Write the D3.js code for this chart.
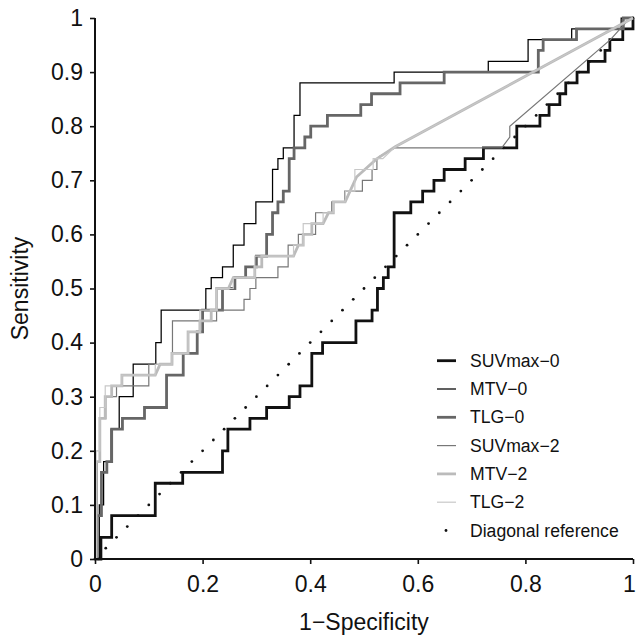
<!DOCTYPE html>
<html><head><meta charset="utf-8">
<script src="https://cdn.jsdelivr.net/npm/d3@7"></script>
<style>
html,body{margin:0;padding:0;background:#fff;}
text{font-family:"Liberation Sans",Arial,Helvetica,sans-serif;fill:#111;}
</style></head>
<body><svg id="c" width="637" height="636"></svg>
<script>
// ---- data (ROC vertices: 1-specificity, sensitivity) ----
const suv0X=[0,0.011,0.011,0.031,0.031,0.112,0.112,0.163,0.163,0.237,0.237,0.247,0.247,0.288,0.288,0.319,0.319,0.361,0.361,0.381,0.381,0.403,0.403,0.423,0.423,0.485,0.485,0.515,0.515,0.525,0.525,0.536,0.536,0.545,0.545,0.556,0.556,0.587,0.587,0.609,0.609,0.630,0.630,0.649,0.649,0.688,0.688,0.722,0.722,0.784,0.784,0.827,0.827,0.844,0.844,0.864,0.864,0.875,0.875,0.896,0.896,0.917,0.917,0.948,0.948,0.957,0.957,0.981,0.981,1,1];
const suv0Y=[0,0,0.04,0.04,0.08,0.08,0.14,0.14,0.16,0.16,0.20,0.20,0.24,0.24,0.26,0.26,0.28,0.28,0.30,0.30,0.32,0.32,0.38,0.38,0.40,0.40,0.44,0.44,0.46,0.46,0.50,0.50,0.52,0.52,0.54,0.54,0.64,0.64,0.66,0.66,0.68,0.68,0.70,0.70,0.72,0.72,0.74,0.74,0.76,0.76,0.80,0.80,0.82,0.82,0.84,0.84,0.86,0.86,0.88,0.88,0.90,0.90,0.92,0.92,0.94,0.94,0.96,0.96,0.98,0.98,1];

const mtv0X=[0,0.008,0.008,0.016,0.016,0.03,0.03,0.045,0.045,0.071,0.071,0.113,0.113,0.123,0.123,0.206,0.206,0.216,0.216,0.237,0.237,0.257,0.257,0.277,0.277,0.299,0.299,0.33,0.33,0.34,0.34,0.35,0.35,0.37,0.37,0.381,0.381,0.556,0.556,0.731,0.731,0.805,0.805,0.886,0.886,0.978,0.978,1];
const mtv0Y=[0,0,0.10,0.10,0.18,0.18,0.24,0.24,0.30,0.30,0.36,0.36,0.40,0.40,0.46,0.46,0.50,0.50,0.52,0.52,0.54,0.54,0.58,0.58,0.62,0.62,0.66,0.66,0.72,0.72,0.74,0.74,0.76,0.76,0.82,0.82,0.88,0.88,0.90,0.90,0.92,0.92,0.96,0.96,0.98,0.98,1,1];

const tlg0X=[0,0.004,0.004,0.012,0.012,0.022,0.022,0.031,0.031,0.051,0.051,0.092,0.092,0.133,0.133,0.164,0.164,0.19,0.19,0.2,0.2,0.237,0.237,0.26,0.26,0.28,0.28,0.3,0.3,0.319,0.319,0.33,0.33,0.34,0.34,0.35,0.35,0.361,0.361,0.37,0.37,0.39,0.39,0.401,0.401,0.432,0.432,0.494,0.494,0.514,0.514,0.567,0.567,0.649,0.649,0.824,0.824,0.833,0.833,0.895,0.895,0.982,0.982,1];
const tlg0Y=[0,0,0.08,0.08,0.16,0.16,0.18,0.18,0.24,0.24,0.26,0.26,0.28,0.28,0.34,0.34,0.38,0.38,0.42,0.42,0.46,0.46,0.50,0.50,0.52,0.52,0.54,0.54,0.56,0.56,0.60,0.60,0.64,0.64,0.66,0.66,0.68,0.68,0.74,0.74,0.76,0.76,0.78,0.78,0.80,0.80,0.82,0.82,0.84,0.84,0.86,0.86,0.88,0.88,0.90,0.90,0.94,0.94,0.96,0.96,0.98,0.98,1,1];

const suv2X=[0,0.004,0.004,0.01,0.01,0.02,0.02,0.04,0.04,0.1,0.1,0.144,0.144,0.226,0.226,0.277,0.277,0.288,0.288,0.299,0.299,0.34,0.34,0.359,0.359,0.378,0.378,0.41,0.41,0.44,0.44,0.464,0.464,0.497,0.497,0.515,0.515,0.524,0.524,0.53,0.558,0.756,0.771,0.771,0.958,0.99,1];
const suv2Y=[0,0,0.18,0.18,0.26,0.26,0.30,0.30,0.32,0.32,0.36,0.36,0.44,0.44,0.46,0.46,0.48,0.48,0.50,0.50,0.52,0.52,0.54,0.54,0.58,0.58,0.60,0.60,0.64,0.64,0.66,0.66,0.68,0.68,0.70,0.70,0.72,0.72,0.74,0.745,0.76,0.76,0.78,0.80,0.96,0.995,1];

const mtv2X=[0,0.002,0.002,0.009,0.009,0.019,0.019,0.031,0.031,0.05,0.05,0.112,0.121,0.143,0.143,0.173,0.173,0.195,0.195,0.216,0.216,0.226,0.226,0.248,0.257,0.297,0.297,0.31,0.31,0.369,0.378,0.387,0.387,0.403,0.403,0.424,0.434,0.443,0.443,0.465,0.486,0.523,0.558,1];
const mtv2Y=[0,0,0.18,0.18,0.26,0.26,0.30,0.30,0.32,0.32,0.34,0.34,0.36,0.36,0.38,0.38,0.42,0.42,0.44,0.44,0.46,0.46,0.50,0.50,0.52,0.52,0.54,0.54,0.56,0.56,0.58,0.58,0.60,0.60,0.62,0.62,0.64,0.64,0.66,0.66,0.706,0.739,0.762,1];

const tlg2X=[0,0.002,0.002,0.009,0.009,0.019,0.019,0.05,0.05,0.112,0.112,0.143,0.143,0.173,0.173,0.195,0.195,0.226,0.226,0.257,0.257,0.297,0.297,0.369,0.369,0.387,0.387,0.424,0.424,0.443,0.443,0.465,0.465,0.483,0.483,0.517,0.517,0.535,0.558,1];
const tlg2Y=[0,0,0.20,0.20,0.28,0.28,0.32,0.32,0.34,0.34,0.36,0.36,0.38,0.38,0.42,0.42,0.46,0.46,0.50,0.50,0.52,0.52,0.56,0.56,0.58,0.58,0.62,0.62,0.64,0.64,0.66,0.66,0.68,0.68,0.72,0.72,0.74,0.74,0.762,1];

const seriesNames=["SUVmax\u22120","MTV\u22120","TLG\u22120","SUVmax\u22122","MTV\u22122","TLG\u22122"];
const seriesColors=["#111111","#000000","#666666","#777777","#bbbbbb","#c8c8c8"];
const seriesWidths=[2.8,1.25,2.8,1.2,2.8,1.2];
const diagSteps=d3.range(0,51).map(i=>i/50);
const xTicks=[0,0.2,0.4,0.6,0.8,1];
const yTicks=[0,0.1,0.2,0.3,0.4,0.5,0.6,0.7,0.8,0.9,1];
const xLabel="1\u2212Specificity", yLabel="Sensitivity", diagName="Diagonal reference";

// ---- drawing ----
const svg=d3.select("#c");
const L=95,R=633,T=18,B=559;
const x=d3.scaleLinear().domain([0,1]).range([L,R]);
const y=d3.scaleLinear().domain([0,1]).range([B,T]);
const allX=[suv0X,mtv0X,tlg0X,suv2X,mtv2X,tlg2X], allY=[suv0Y,mtv0Y,tlg0Y,suv2Y,mtv2Y,tlg2Y];

// diagonal dots
svg.append("g").selectAll("circle").data(diagSteps).join("circle")
  .attr("cx",d=>x(d)).attr("cy",d=>y(d)).attr("r",1.4).attr("fill","#111");

const line=d3.line().x(d=>x(d[0])).y(d=>y(d[1]));
allX.forEach((xs,i)=>{
  const pts=xs.map((v,j)=>[v,allY[i][j]]);
  svg.append("path").attr("d",line(pts)).attr("fill","none")
    .attr("stroke",seriesColors[i]).attr("stroke-width",seriesWidths[i])
    .attr("stroke-linejoin","miter");
});

// axes
const fmt=d=>d===0||d===1?String(d):d3.format(".1f")(d);
const gx=svg.append("g").attr("transform",`translate(0,${B})`)
  .call(d3.axisBottom(x).tickValues(xTicks).tickFormat(fmt).tickSize(5).tickPadding(12));
const gy=svg.append("g").attr("transform",`translate(${L},0)`)
  .call(d3.axisLeft(y).tickValues(yTicks).tickFormat(fmt).tickSize(5).tickPadding(7));
[gx,gy].forEach(g=>{
  g.select(".domain").attr("stroke","#111").attr("stroke-width",2);
  g.selectAll(".tick line").attr("stroke","#111").attr("stroke-width",1.6);
  g.selectAll(".tick text").attr("font-size",23).attr("fill","#111")
   .attr("font-family","'Liberation Sans',Arial,sans-serif");
});
gx.selectAll(".tick text").filter(d=>d===1).attr("dx",-4);
gx.select(".domain").attr("d",`M${L},0H${R}`);
gy.select(".domain").attr("d",`M0,${B}V${T}`);

svg.append("text").attr("x",(L+R)/2).attr("y",630).attr("text-anchor","middle")
  .attr("font-size",23).text(xLabel);
svg.append("text").attr("transform",`translate(28,${(T+B)/2}) rotate(-90)`)
  .attr("text-anchor","middle").attr("font-size",23).text(yLabel);

// legend
const lg=svg.append("g");
const rowY=d3.range(7).map(i=>360.7+i*28.3);
seriesNames.forEach((n,i)=>{
  lg.append("line").attr("x1",437).attr("x2",456).attr("y1",rowY[i]).attr("y2",rowY[i])
    .attr("stroke",seriesColors[i]).attr("stroke-width",seriesWidths[i]);
  lg.append("text").attr("x",470).attr("y",rowY[i]).attr("dy","0.35em")
    .attr("font-size",17.6).text(n);
});
lg.append("circle").attr("cx",446).attr("cy",rowY[6]).attr("r",1.4).attr("fill","#111");
lg.append("text").attr("x",470).attr("y",rowY[6]).attr("dy","0.35em").attr("font-size",17.6).text(diagName);
</script></body></html>
